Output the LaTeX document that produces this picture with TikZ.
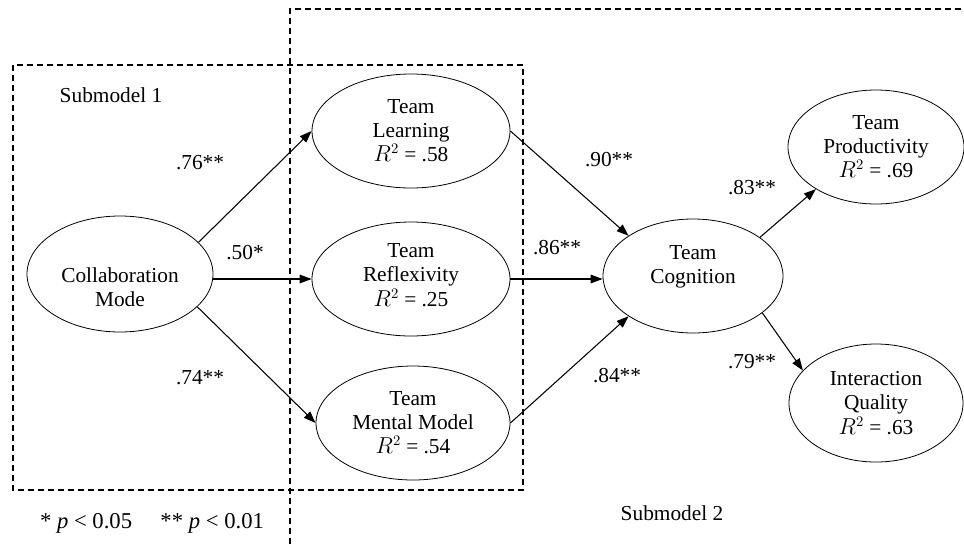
\documentclass[tikz,border=0pt]{standalone}
\usepackage{fontspec}
\setmainfont{Liberation Serif}
\usetikzlibrary{arrows.meta,shapes.geometric}
\newcommand{\vshift}[2]{\raisebox{#1}[0pt][0pt]{\begin{tabular}{@{}c@{}}#2\end{tabular}}}
\begin{document}
\begin{tikzpicture}[x=0.75pt,y=-0.75pt,
  var/.style={draw,ellipse,line width=0.6pt,minimum width=#1,minimum height=114*0.75pt,align=center,inner sep=0pt,font=\fontsize{16}{18}\selectfont},
  var/.default={198*0.75pt},
  path/.style={-{Triangle[length=9pt,width=6.5pt]},line width=0.8pt},
  coef/.style={font=\fontsize{16}{18}\selectfont,inner sep=0pt},
  box/.style={dashed,line width=0.8pt,dash pattern=on 4.5pt off 3pt}]
\useasboundingbox (0,0) rectangle (964,544);
\draw[box] (13,65) rectangle (523,490);
\draw[box] (290,544) -- (290,9) -- (964,9);
\node[var={186*0.75pt},minimum height=116*0.75pt] (cm) at (120,274) {\vshift{-16pt}{Collaboration\\Mode}};
\node[var] (tl) at (411,131) {Team\\Learning\\$R^2$ = .58};
\node[var] (tr) at (411,279) {\vshift{-3.2pt}{Team\\Reflexivity\\$R^2$ = .25}};
\node[var={194*0.75pt}] (mm) at (413,423) {Team\\Mental Model\\$R^2$ = .54};
\node[var={180*0.75pt}] (tc) at (693,276) {\vshift{3pt}{Team\\Cognition}};
\node[var={176*0.75pt}] (tp) at (876,147) {Team\\Productivity\\$R^2$ = .69};
\node[var={174*0.75pt},minimum height=118*0.75pt] (iq) at (876,403) {\vshift{-6pt}{Interaction\\Quality\\$R^2$ = .63}};
\draw[path] (cm.22) -- (tl.west);
\draw[path] (cm.east |- tr.west) -- (tr.west);
\draw[path] (cm.-23) -- (mm.west);
\draw[path] (tl.east) -- (tc.148);
\draw[path] (tr.east) -- (tc.west |- tr.east);
\draw[path] (mm.east) -- (tc.212);
\draw[path] (tc.30) -- (tp.215);
\draw[path] (tc.-28) -- (iq.156);
\node[coef] (l1) at (200,163) {.76**};
\node[coef] (l2) at (245,253) {.50*};
\node[coef] (l3) at (200,378) {.74**};
\node[coef] (l4) at (609,160) {.90**};
\node[coef] (l5) at (557,248) {.86**};
\node[coef] (l6) at (617,376) {.84**};
\node[coef] (l7) at (752,188) {.83**};
\node[coef] (l8) at (752,362) {.79**};
\node[coef] (s1) at (111,95) {Submodel 1};
\node[coef] (s2) at (672,513) {Submodel 2};
\node[coef,font=\fontsize{17}{19}\selectfont] (pv) at (152,523) {* \textit{p} < 0.05\quad\ ** \textit{p} < 0.01};
\end{tikzpicture}
\end{document}
